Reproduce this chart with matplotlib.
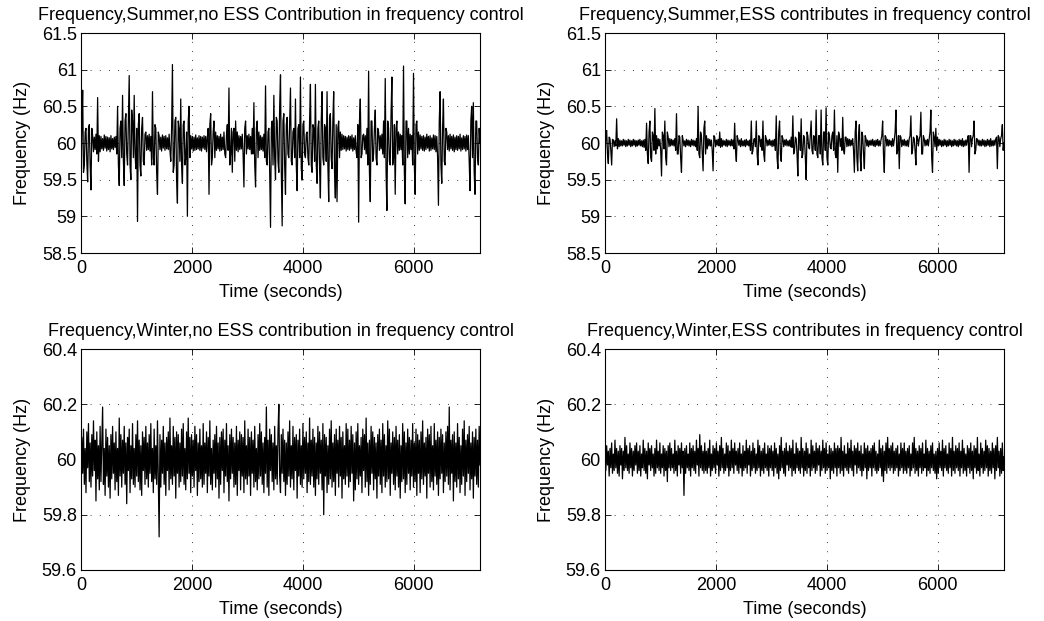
import numpy as np
import matplotlib
matplotlib.use("Agg")
import matplotlib.pyplot as plt

plt.rcParams['font.family'] = ['Liberation Sans', 'DejaVu Sans']

# time grid: one sample every 15 s over two hours
step = 15
t_end = 7200

# frequency deviation from 60 Hz in mHz (40 samples per row = 600 s)
summer_no_ess = [
    -650, 200, 720, -400, -300, 150, 200, -250, -530, 200, 250, -300, -640, 200, 100, -120, 80, -90, 120, -150,
    620, -250, 100, -120, 90, -80, 60, -100, 110, -70, 90, -110, 80, -90, 70, -120, 100, -80, 60, -90,
    80, -60, 90, -150, 500, -300, -580, 200, 300, -200, 650, -250, -580, 300, 400, -150, -300, 350, 920, -300,
    -500, 450, 300, -200, 650, -150, -350, 200, -1070, 250, 400, -300, -450, 200, 350, -250, -300, 120, 150, -100,
    100, -90, 120, -110, 90, -300, 700, -200, -300, 250, 200, -400, -700, 150, 100, -90, 80, -110, 110, -70,
    90, -100, 100, -80, 70, -90, 120, -100, -250, 200, 1070, -400, -300, 300, 350, -500, -820, 300, 200, -250,
    600, -300, -550, 250, 300, -300, -200, 150, -1000, 300, 500, -200, 100, -80, 90, -110, 80, -100, 110, -90,
    70, -80, 100, -100, 90, -110, 80, -70, 100, -90, 90, -120, 80, 200, -700, 250, 400, -300, -200, 150,
    300, -200, 150, -100, 100, -80, 90, -110, 120, -100, 80, -90, 150, -150, -200, 100, 250, -100, 750, -300,
    -150, 200, -400, 150, 200, -250, 300, -100, 150, -120, 100, -90, 90, -80, 120, -150, -600, 200, 300, -150,
    100, -80, 120, -90, 90, -150, 200, -150, 550, -300, -600, 200, 300, -200, 150, -100, 100, -90, 80, -110,
    120, -200, 780, -250, -300, 150, 200, -400, -1150, 200, 300, -300, 650, -200, -500, 350, 300, -250, -400, 500,
    930, -400, -1130, 300, 400, -300, -700, 250, 350, -150, -200, 300, 750, -250, -300, 150, 200, -200, 600, -300,
    -650, 200, 250, -200, 900, -350, -500, 250, 300, -150, -200, 120, 150, -200, -300, 300, 800, -300, -400, 250,
    200, -250, 800, -300, -550, 200, 300, -350, -750, 300, 700, -200, -300, 250, 200, -250, 700, -300, -800, 350,
    400, -200, -350, 300, 700, -400, -750, 250, -800, 200, 300, -200, 150, -100, 120, -90, 100, -80, 90, -110,
    80, -90, 100, -100, 90, -80, 110, -110, 70, -90, 100, -120, -200, 250, -1080, 300, 600, -200, -150, 100,
    120, -90, 100, -150, 200, -300, 980, -400, -800, 300, 300, -250, -150, 200, 450, -200, -300, 200, 150, -100,
    100, -80, 120, -150, 300, -200, 880, -400, -920, 300, 200, -250, -300, 400, 900, -300, -200, 250, -700, 200,
    300, -150, 150, -100, 120, -90, 100, -300, 1050, -400, -830, 300, 300, -200, 200, -150, 120, -90, 100, -300,
    950, -300, -700, 250, 300, -150, 150, -100, 110, -80, 90, -100, 100, -110, 80, -90, 120, -70, 90, -110,
    100, -100, 70, -80, 110, -90, 100, -120, 90, -200, -850, 300, 700, -300, -550, 200, 600, -250, -300, 200,
    150, -90, 100, -110, 120, -80, 90, -100, 110, -120, 80, -90, 100, -100, 90, -80, 120, -110, 70, -90,
    100, -80, 90, -110, 110, -90, 100, -250, -650, 300, 500, -200, 550, -400, -700, 300, 300, -200, -300, 200,
    0,
]

summer_ess = [
    -250, 100, 170, -150, -280, 80, 60, -100, -300, 50, 40, -50, 30, -40, 330, -80, 60, -50, 40, -40,
    30, -40, 50, -30, 40, -50, 30, -40, 50, -30, 40, -50, 30, -40, 50, -30, 40, -50, 30, -40,
    40, -30, 50, -40, 30, -50, 40, -60, 50, -100, 270, -150, -280, 150, 300, -200, -250, 150, 100, -100,
    470, -150, 100, -80, 60, -40, 50, -100, -450, 150, 100, -80, 300, -200, -300, 150, 80, -50, 60, -40,
    50, -30, 40, -40, 60, -100, 400, -150, -150, 100, 80, -200, -400, 100, 40, -40, 30, -50, 50, -30,
    40, -40, 30, -50, 50, -30, 40, -40, 30, -50, 60, -100, 500, -150, -200, 150, 100, -150, -380, 200,
    300, -150, 100, -80, 60, -40, 50, -40, 40, -100, -380, 100, 80, -50, 40, -30, 50, -40, 150, -60,
    60, -50, 40, -30, 30, -40, 50, -50, 40, -30, 30, -40, 50, -40, 40, -80, 270, -100, -250, 100,
    50, -30, 40, -50, 60, -40, 30, -40, 40, -50, 50, -30, 30, -40, 40, -100, 300, -150, -100, 50,
    60, -50, 300, -150, -300, 100, 80, -50, 50, -100, 300, -150, -250, 100, 60, -40, 40, -30, 50, -30,
    30, -50, 40, -40, 50, -100, 370, -200, -350, 150, 300, -150, -250, 100, 60, -50, 40, -30, 50, -40,
    30, -40, 40, -50, 80, -60, 370, -150, -100, 80, 60, -150, -450, 150, 100, -100, 330, -200, -150, 100,
    60, -200, -500, 150, 100, -60, -80, 100, 300, -100, -150, 100, 80, -100, 450, -150, -200, 100, 100, -150,
    450, -200, -300, 150, 150, -100, 480, -200, -300, 150, 100, -60, -80, 100, 150, -100, 450, -150, -200, 100,
    -400, 150, 100, -50, 60, -100, 350, -100, -150, 80, 80, -50, 60, -40, 50, -40, 40, -30, 60, -100,
    -400, 150, 300, -200, -380, 100, 250, -200, -380, 150, 100, -150, -350, 100, 60, -40, 40, -50, 30, -30,
    40, -30, 50, -40, 30, -50, 40, -30, 50, -40, 30, -40, 40, 100, 300, -150, -400, 100, 80, -40,
    50, -40, 40, -30, 30, -50, 60, -40, 40, 150, 450, -150, -100, 100, -350, 100, 80, -50, 40, -30,
    50, -40, 30, -40, 40, -50, 60, 100, 370, -150, -100, 80, 60, -100, -300, 100, 80, -40, 50, 100,
    420, -150, -150, 100, 60, -40, 40, -30, 50, -40, 60, 150, 450, -200, -400, 150, 80, -50, 200, -100,
    80, -40, 50, -30, 40, -50, 30, -40, 50, -30, 40, -50, 30, -40, 50, -30, 40, -50, 30, -40,
    50, -30, 40, -40, 30, -50, 50, -30, 40, -40, 60, -50, 30, -40, 40, -30, 50, 100, -400, 100,
    100, -50, 60, 100, 300, -150, -100, 60, 50, -30, 40, -40, 30, -40, 50, -30, 40, -50, 30, -40,
    50, -30, 40, -50, 60, -40, 30, -40, 40, -30, 50, 80, -350, 100, 80, -50, 60, 100, 250, -100,
    0,
]

winter_no_ess = [
    0, 80, -50, 110, -90, 40, -120, 100, -30, 130, -80, 60, -100, 90, -60, 140, -40, 70, -150, 100,
    -70, 50, -110, 120, -80, 60, 190, -90, 40, -130, 110, -60, 80, -100, 50, -140, 90, -70, 120, -50,
    60, -110, 100, -80, 40, -130, 150, -60, 90, -100, 70, -50, 120, -90, 60, -160, 80, -40, 110, -120,
    50, -70, 130, -90, 40, -100, 90, -60, 140, -80, 70, -110, 50, -130, 100, -40, 80, -90, 120, -70,
    60, -100, 90, -50, 130, -80, 40, -120, 110, -70, 50, -90, 140, -60, -280, 90, -100, 70, -50, 120,
    -90, 60, -130, 80, -40, 100, -110, 150, -70, 50, -90, 120, -60, 80, -140, 100, -50, 90, -100, 60,
    -80, 110, -60, 130, -90, 40, -110, 100, -70, 150, -50, 80, -120, 90, -60, 70, -100, 120, -40, 90,
    -130, 60, -80, 110, -70, 50, -100, 130, -90, 60, -50, 100, -120, 80, -60, 140, -90, 40, -110, 70,
    -50, 90, -100, 120, -70, 60, -140, 80, -90, 100, -40, 110, -120, 70, -60, 130, -80, 50, -150, 90,
    -70, 110, -50, 80, -100, 60, -90, 120, -130, 70, -40, 100, -110, 90, -60, 80, -120, 140, -70, 50,
    -90, 110, -60, 80, -130, 100, -50, 70, -100, 120, -80, 40, -110, 90, -70, 130, -60, 100, -90, 60,
    -120, 80, -50, 190, -100, 70, -130, 110, -40, 90, -80, 60, -110, 120, -70, 50, -90, 100, 200, -60,
    -120, 90, -50, 110, -80, 70, -130, 60, -90, 100, -60, 140, -100, 50, -70, 120, -110, 80, -40, 90,
    -140, 70, -60, 110, -90, 50, -100, 130, -70, 80, -50, 100, -120, 60, -80, 150, -90, 70, -60, 110,
    -100, 80, -130, 60, -70, 120, -90, 100, -50, 70, -110, 130, -200, 90, -60, 80, -120, 50, -90, 110,
    -70, 140, -100, 60, -80, 90, -130, 110, -50, 70, -100, 120, -60, 80, -140, 100, -70, 50, -90, 130,
    -60, 110, -100, 70, -80, 120, -50, 90, -150, 60, -110, 100, -70, 130, -90, 50, -60, 80, -120, 110,
    -40, 90, -100, 150, -80, 60, -130, 70, -90, 120, -50, 100, -110, 80, -70, 60, -140, 90, -60, 110,
    -90, 70, -120, 130, -60, 90, -100, 50, -80, 140, -70, 110, -130, 60, -50, 100, -90, 80, -110, 120,
    -60, 70, -100, 90, -140, 50, -80, 130, -70, 100, -120, 60, -90, 110, -50, 80, -110, 70, -60, 130,
    -100, 60, -80, 110, -130, 90, -50, 70, -120, 100, -70, 140, -90, 60, -60, 80, -140, 110, -50, 90,
    -100, 120, -80, 50, -110, 130, -60, 70, -90, 100, -130, 80, -70, 110, -50, 90, -120, 60, -80, 100,
    -60, 120, -90, 190, -110, 70, -50, 90, -150, 100, -80, 60, -100, 130, -70, 80, -120, 50, -90, 110,
    -60, 140, -130, 70, -80, 90, -50, 120, -110, 60, -70, 100, -140, 80, -60, 110, -90, 70, -100, 120,
    -20,
]

winter_ess = [
    20, -40, 50, -20, 30, -60, 40, -30, 60, -50, 20, -40, 70, -30, 40, -50, 30, -60, 50, -20,
    40, -70, 30, -40, 80, -30, 50, -40, 20, -50, 60, -30, 40, -60, 30, -40, 50, -20, 60, -50,
    30, -40, 50, -60, 20, -30, 70, -40, 40, -50, 30, -70, 60, -20, 40, -40, 50, -30, 20, -60,
    40, -50, 70, -30, 30, -40, 60, -50, 20, -30, 50, -60, 40, -40, 30, -80, 50, -30, 60, -40,
    40, -30, 20, -50, 70, -40, 30, -60, 50, -20, 40, -50, 60, -30, 30, -130, 40, -50, 50, -30,
    20, -40, 60, -60, 40, -30, 50, -40, 30, -50, 70, -20, 40, -60, 90, -30, 50, -40, 30, -50,
    60, -40, 30, -50, 40, -30, 70, -60, 20, -40, 50, -30, 40, -50, 60, -20, 30, -60, 50, -40,
    80, -30, 40, -50, 20, -40, 60, -30, 50, -60, 30, -40, 70, -30, 40, -50, 60, -20, 30, -40,
    40, -50, 60, -30, 20, -60, 50, -40, 30, -30, 70, -50, 40, -20, 50, -60, 30, -40, 60, -30,
    40, -50, 20, -40, 70, -30, 50, -60, 30, -40, 40, -50, 60, -30, 20, -40, 50, -60, 40, -30,
    50, -40, 30, -60, 60, -30, 40, -50, 20, -70, 50, -40, 80, -30, 30, -50, 40, -60, 60, -20,
    30, -40, 50, -30, 40, -60, 70, -40, 20, -50, 60, -30, 40, -40, 30, -50, 80, -30, 40, -60,
    30, -40, 60, -50, 40, -30, 20, -60, 70, -40, 50, -30, 30, -50, 60, -40, 40, -20, 50, -60,
    30, -40, 70, -30, 40, -50, 60, -40, 20, -30, 50, -70, 40, -40, 30, -50, 60, -30, 40, -60,
    50, -30, 40, -50, 80, -40, 30, -60, 50, -30, 20, -40, 60, -50, 40, -30, 70, -40, 30, -60,
    50, -20, 40, -50, 60, -30, 30, -40, 50, -60, 20, -40, 60, -30, 40, -70, 50, -40, 30, -30,
    40, -60, 50, -30, 60, -40, 30, -50, 20, -40, 70, -30, 40, -60, 50, -80, 30, -40, 60, -50,
    80, -30, 40, -40, 50, -30, 60, -50, 30, -40, 40, -30, 50, -60, 20, -40, 60, -30, 40, -50,
    60, -40, 30, -50, 40, -30, 50, -60, 20, -40, 60, -30, 80, -50, 40, -40, 30, -60, 50, -30,
    40, -50, 60, -40, 20, -30, 70, -60, 40, -40, 30, -50, 50, -30, 60, -40, 20, -50, 30, -70,
    40, -50, 60, -30, 30, -40, 70, -60, 40, -30, 50, -40, 20, -50, 60, -30, 40, -60, 80, -40,
    30, -50, 50, -30, 40, -40, 60, -60, 30, -30, 70, -50, 40, -40, 20, -60, 50, -30, 40, -50,
    60, -40, 30, -70, 50, -30, 40, -50, 80, -40, 20, -60, 60, -30, 40, -50, 30, -40, 70, -30,
    50, -60, 40, -40, 30, -50, 60, -30, 40, -70, 50, -40, 80, -30, 30, -60, 40, -50, 60, -40,
    10,
]

titles = [
    "Frequency,Summer,no ESS Contribution in frequency control",
    "Frequency,Summer,ESS contributes in frequency control",
    "Frequency,Winter,no ESS contribution in frequency control",
    "Frequency,Winter,ESS contributes in frequency control",
]
x_ticks = [0, 2000, 4000, 6000]
summer_yticks = [58.5, 59, 59.5, 60, 60.5, 61, 61.5]
summer_ylabels = ["58.5", "59", "59.5", "60", "60.5", "61", "61.5"]
winter_yticks = [59.6, 59.8, 60, 60.2, 60.4]
winter_ylabels = ["59.6", "59.8", "60", "60.2", "60.4"]

series = [summer_no_ess, summer_ess, winter_no_ess, winter_ess]
yticks = [summer_yticks, summer_yticks, winter_yticks, winter_yticks]
ylabels = [summer_ylabels, summer_ylabels, winter_ylabels, winter_ylabels]

fig = plt.figure(figsize=(10.44, 6.21), dpi=100)
W, H = 1044, 621
boxes = [(81, 33, 399, 220), (605, 33, 399, 220),
         (81, 349, 399, 221), (605, 349, 399, 221)]

for i in range(4):
    x0, y0, w, h = boxes[i]
    ax = fig.add_axes([x0 / W, 1 - (y0 + h) / H, w / W, h / H])
    t = np.arange(len(series[i])) * step
    f = 60 + np.array(series[i]) / 1000.0
    ax.plot(t, f, color='black', lw=0.9)
    ax.set_xlim(0, t_end)
    ax.set_ylim(yticks[i][0], yticks[i][-1])
    ax.set_xticks(x_ticks)
    ax.set_xticklabels([str(v) for v in x_ticks])
    ax.set_yticks(yticks[i])
    ax.set_yticklabels(ylabels[i])
    ax.grid(True, linestyle=(0, (1, 10)), color='black', lw=0.6)
    ax.tick_params(direction='in', top=True, right=True, length=4, width=0.6,
                   labelsize=13)
    ax.tick_params(axis='x', pad=5)
    ax.tick_params(axis='y', pad=3)
    for s in ax.spines.values():
        s.set_linewidth(0.8)
    ax.set_xlabel("Time (seconds)", fontsize=13, labelpad=5)
    ax.set_ylabel("Frequency (Hz)", fontsize=13, labelpad=8)
    ax.set_title(titles[i], fontsize=13, pad=9)

fig.savefig("out.png", dpi=100)
